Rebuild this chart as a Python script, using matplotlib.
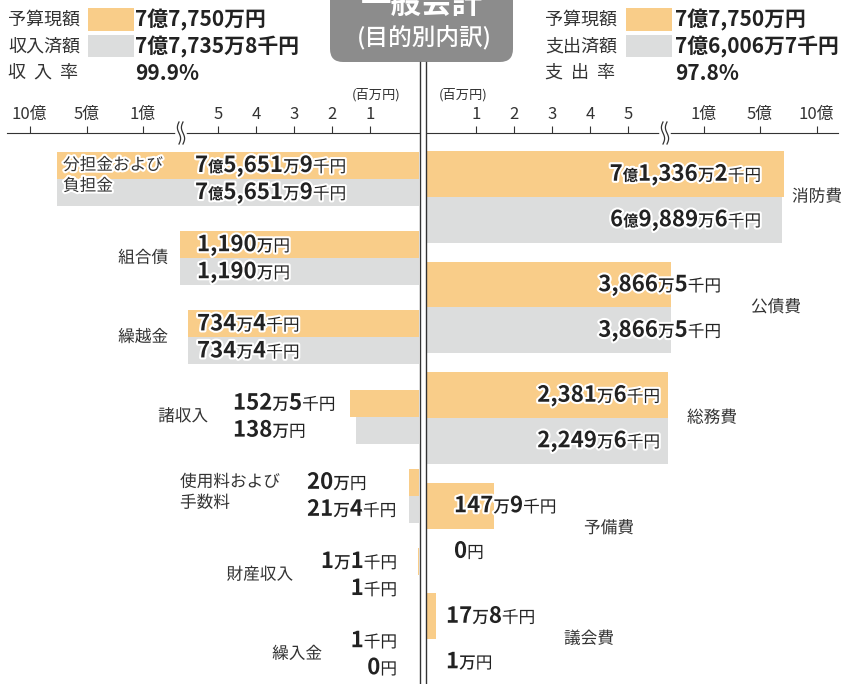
import numpy as np
import matplotlib
matplotlib.use('Agg')
import matplotlib.pyplot as plt
import matplotlib.patheffects as pe
import matplotlib.transforms as mtransforms
from matplotlib.lines import Line2D
from matplotlib.patches import Rectangle, FancyBboxPatch
from matplotlib.offsetbox import TextArea, HPacker, AnnotationBbox

plt.rcParams['font.family'] = ['Noto Sans CJK JP', 'DejaVu Sans']

# ============================
# データ（単位：千円）
# ============================
rev_cats = ['分担金および\n負担金', '組合債', '繰越金', '諸収入', '使用料および\n手数料', '財産収入', '繰入金']
rev_budget = [756519, 11900, 7344, 1525, 200, 11, 1]
rev_actual = [756519, 11900, 7344, 1380, 214, 1, 0]

exp_cats = ['消防費', '公債費', '総務費', '予備費', '議会費']
exp_budget = [713362, 38665, 23816, 1479, 178]
exp_actual = [698896, 38665, 22496, 0, 10]

rev_total = [777500, 777358]
exp_total = [777500, 760067]
rev_rate = 99.9
exp_rate = 97.8

# 目盛り（百万円）
tick_vals = [1, 2, 3, 4, 5, 100, 500, 1000]
tick_labels = ['1', '2', '3', '4', '5', '1億', '5億', '10億']

# ============================
# レイアウト・スタイル
# ============================
W, H = 842, 684
ORANGE = '#F9CD89'
GREY = '#DCDDDD'
INK = '#222222'
SUB = '#333333'

# 軸のスケール（百万円 -> 中心線からのピクセル）: 5百万円以降は省略
SCALE_VAL = [0, 1, 5, 7.3, 12, 40, 100, 500, 1000, 2000]
SCALE_PX = [0, 49, 201, 231, 239, 244, 276.5, 332.5, 389.5, 450]
BREAK_PX = 238


def fwd(v):
    return np.interp(v, SCALE_VAL, SCALE_PX)


def inv(p):
    return np.interp(p, SCALE_PX, SCALE_VAL)


rev_val_pos = [(195, 'left'), (197, 'left'), (197, 'left'), (233, 'left'),
               (307, 'left'), (397, 'right'), (397, 'right')]
rev_cat_pos = [(63, 'left'), (168, 'right'), (168, 'right'), (208, 'right'),
               (180, 'left'), (293, 'right'), (322, 'right')]
exp_val_pos = [(761, 'right'), (721, 'right'), (660, 'right'), (454, 'left'), (446, 'left')]
exp_cat_pos = [792, 751, 687, 584, 564]

STYLES = {
    'num': dict(fontsize=16, fontweight='bold'),
    'oku': dict(fontsize=11, fontweight='bold'),
    'man': dict(fontsize=12, fontweight='medium'),
    'unit': dict(fontsize=12, fontweight='normal'),
}
halo = [pe.withStroke(linewidth=3, foreground='white')]


def money_parts(v):
    """千円単位の値を「7億5,651万9千円」の部品に分ける"""
    oku, rest = divmod(v, 100000)
    man, sen = divmod(rest, 10)
    parts = []
    if oku:
        parts += [(str(oku), 'num'), ('億', 'oku')]
    if man:
        parts += [(f'{man:,}', 'num'), ('万', 'man')]
    if sen:
        parts += [(str(sen), 'num'), ('千', 'unit')]
    if not parts:
        parts = [('0', 'num')]
    parts.append(('円', 'unit'))
    merged = []
    for s, k in parts:
        if merged and merged[-1][1] == k:
            merged[-1] = (merged[-1][0] + s, k)
        else:
            merged.append((s, k))
    return merged


def money_text(v):
    return ''.join(s for s, _ in money_parts(v))


def px_rect(x0, y0, x1, y1):
    return [x0 / W, 1 - y1 / H, (x1 - x0) / W, (y1 - y0) / H]


fig = plt.figure(figsize=(W / 100, H / 100), dpi=100)


def value_label(ax, v, x, ha, y):
    kids = [TextArea(s, textprops=dict(color=INK, path_effects=halo, **STYLES[k]))
            for s, k in money_parts(v)]
    pack = HPacker(children=kids, align='baseline', pad=0, sep=0)
    ab = AnnotationBbox(pack, (x, y), xycoords=('figure pixels', 'data'),
                        box_alignment=(0 if ha == 'left' else 1, 0.5),
                        frameon=False, pad=0, annotation_clip=False)
    ax.add_artist(ab)


def setup_axis(ax):
    ax.set_xscale('function', functions=(fwd, inv))
    ax.set_facecolor('none')
    for s in ['left', 'right', 'bottom']:
        ax.spines[s].set_visible(False)
    ax.spines['top'].set_color(SUB)
    ax.spines['top'].set_linewidth(0.8)
    ax.xaxis.tick_top()
    ax.set_xticks(tick_vals, tick_labels)
    ax.xaxis.set_minor_locator(matplotlib.ticker.NullLocator())
    ax.tick_params(axis='x', direction='out', length=5, width=0.8, pad=2,
                   labelsize=12, colors=SUB)
    ax.set_yticks([])
    # 省略記号
    bx = float(inv(BREAK_PX))
    trans = mtransforms.Affine2D() + mtransforms.ScaledTranslation(bx, 1, ax.get_xaxis_transform())
    fig.add_artist(Line2D([-3, 3], [0, 0], transform=trans, color='white', lw=4, zorder=10))
    t = np.linspace(-1, 1, 40)
    for dx in (-2, 2):
        fig.add_artist(Line2D(dx - 1.6 * np.sin(np.pi * t), 11 * t, transform=trans,
                              color=SUB, lw=0.9, zorder=11))


# ============================
# 左：歳入
# ============================
axL = fig.add_axes(px_rect(7, 133, 419, 684))
setup_axis(axL)
axL.set_xlim(float(inv(412)), 0)
hL = 0.341
yL = np.arange(len(rev_cats))
axL.barh(yL - hL / 2, np.array(rev_budget) / 1000, height=hL, color=ORANGE, lw=0)
axL.barh(yL + hL / 2, np.array(rev_actual) / 1000, height=hL, color=GREY, lw=0)
axL.set_ylim(6.376, -0.581)
for i in range(len(rev_cats)):
    x, ha = rev_val_pos[i]
    value_label(axL, rev_budget[i], x, ha, i - hL / 2)
    value_label(axL, rev_actual[i], x, ha, i + hL / 2)
    cx, cha = rev_cat_pos[i]
    off = -0.04 if '\n' in rev_cats[i] else 0
    axL.annotate(rev_cats[i], (cx, i + off), xycoords=('figure pixels', 'data'),
                 ha=cha, va='center', fontsize=12, color=SUB, linespacing=1.3,
                 path_effects=halo, annotation_clip=False)

# ============================
# 右：歳出
# ============================
axR = fig.add_axes(px_rect(427, 133, 838, 684))
setup_axis(axR)
axR.set_xlim(0, float(inv(411)))
hR = 0.412
yR = np.arange(len(exp_cats))
axR.barh(yR - hR / 2, np.array(exp_budget) / 1000, height=hR, color=ORANGE, lw=0)
axR.barh(yR + hR / 2, np.array(exp_actual) / 1000, height=hR, color=GREY, lw=0)
axR.set_ylim(4.407, -0.579)
for i in range(len(exp_cats)):
    x, ha = exp_val_pos[i]
    value_label(axR, exp_budget[i], x, ha, i - hR / 2)
    value_label(axR, exp_actual[i], x, ha, i + hR / 2)
    axR.annotate(exp_cats[i], (exp_cat_pos[i], i), xycoords=('figure pixels', 'data'),
                 ha='left', va='center', fontsize=12, color=SUB,
                 path_effects=halo, annotation_clip=False)

# ============================
# 中心線・タイトル
# ============================
for x in (420, 426):
    fig.add_artist(Line2D([x / W, x / W], [0, 1 - 62 / H], transform=fig.transFigure,
                          color=SUB, lw=1))
box = FancyBboxPatch((330, H - 62), 183, 90, boxstyle='round,pad=0,rounding_size=13',
                     transform=mtransforms.Affine2D(), facecolor='#8C8C8C', edgecolor='none')
fig.add_artist(box)
fig.text(421.5 / W, 1 - 4 / H, '一般会計', ha='center', va='center', color='white',
         fontsize=22, fontweight='bold')
fig.text(424 / W, 1 - 38 / H, '(目的別内訳)', ha='center', va='center', color='white',
         fontsize=17, fontweight='medium')
fig.text(376 / W, 1 - 95 / H, '(百万円)', ha='center', va='center', fontsize=9.5, color=SUB)
fig.text(463 / W, 1 - 95 / H, '(百万円)', ha='center', va='center', fontsize=9.5, color=SUB)

# ============================
# 凡例（合計）
# ============================
def legend_block(x_lab, x_box, x_val, labels, totals, rate):
    ys = [20, 47, 73]
    for y, lab in zip(ys, labels):
        fig.text(x_lab / W, 1 - y / H, lab, ha='left', va='center', fontsize=13, color=SUB)
    for (y0, y1), c in zip([(8, 31), (35, 57)], [ORANGE, GREY]):
        fig.add_artist(Rectangle((x_box / W, 1 - y1 / H), 46 / W, (y1 - y0) / H,
                                 transform=fig.transFigure, facecolor=c, edgecolor='none'))
    vals = [money_text(totals[0]), money_text(totals[1]), f'{rate:.1f}%']
    for y, v in zip(ys, vals):
        fig.text(x_val / W, 1 - y / H, v, ha='left', va='center', fontsize=15,
                 fontweight='bold', color=INK)


legend_block(8, 88, 135, ['予算現額', '収入済額', '収  入  率'], rev_total, rev_rate)
legend_block(545, 626, 675, ['予算現額', '支出済額', '支  出  率'], exp_total, exp_rate)

fig.savefig('out.png', dpi=100)
